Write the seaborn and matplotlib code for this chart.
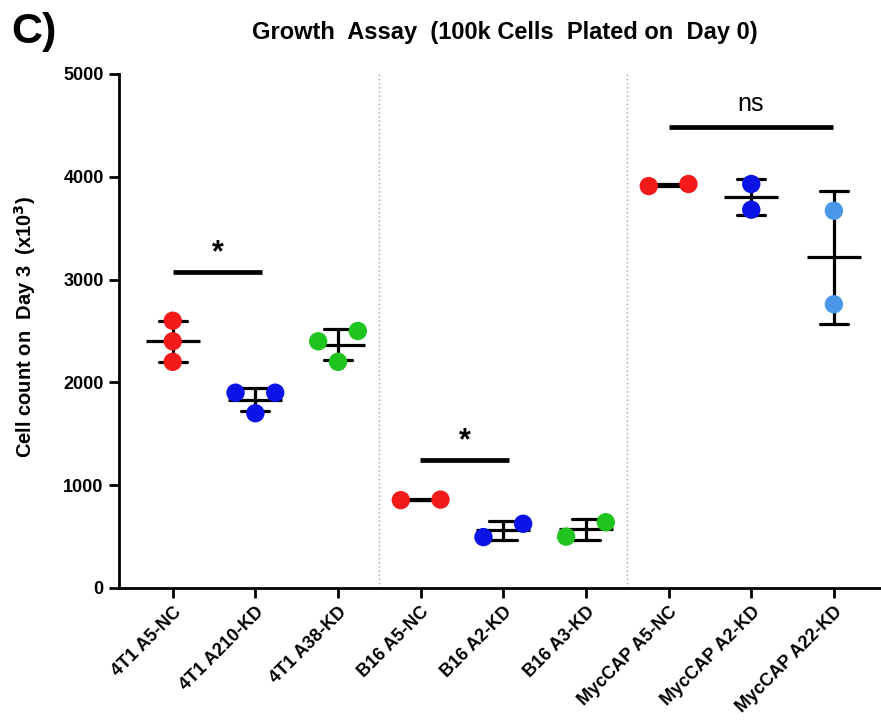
import matplotlib
matplotlib.use("Agg")
import matplotlib.pyplot as plt
import seaborn as sns
import pandas as pd

# ---- data ----
groups = ["4T1 A5-NC", "4T1 A210-KD", "4T1 A38-KD",
          "B16 A5-NC", "B16 A2-KD", "B16 A3-KD",
          "MycCAP A5-NC", "MycCAP A2-KD", "MycCAP A22-KD"]
vals_4t1_nc = [2600, 2400, 2200]
vals_4t1_a210 = [1900, 1900, 1700]
vals_4t1_a38 = [2400, 2500, 2200]
vals_b16_nc = [855, 860]
vals_b16_a2 = [495, 625]
vals_b16_a3 = [500, 640]
vals_myc_nc = [3910, 3930]
vals_myc_a2 = [3930, 3680]
vals_myc_a22 = [3670, 2760]
group_colors = ["#f21a1a", "#0a14e6", "#1fc41f",
                "#f21a1a", "#0a14e6", "#1fc41f",
                "#f21a1a", "#0a14e6", "#4a96e8"]
yticks = [0, 1000, 2000, 3000, 4000, 5000]

# significance annotations: (x_start, x_end, y_line, label)
sig_bars = [(0.0, 1.08, 3070, "*"), (2.99, 4.07, 1245, "*"), (6.0, 7.99, 4485, "ns")]

# ---- style constants ----
OVERLAP = 175      # value distance (y units) under which dots would overlap
SPREAD = 0.24      # horizontal spread (category units) for overlapping dots


def spread_offsets(values):
    """GraphPad-like scatter: overlapping dots spread symmetrically."""
    order = sorted(range(len(values)), key=lambda i: values[i])
    clusters, cur = [], [order[0]]
    for i in order[1:]:
        if values[i] - values[cur[-1]] < OVERLAP:
            cur.append(i)
        else:
            clusters.append(cur)
            cur = [i]
    clusters.append(cur)
    offs = [0.0] * len(values)
    for cl in clusters:
        n = len(cl)
        for k, i in enumerate(cl):
            offs[i] = (k - (n - 1) / 2) * 2 * SPREAD / max(n - 1, 1) if n > 1 else 0.0
    return offs


all_vals = [vals_4t1_nc, vals_4t1_a210, vals_4t1_a38, vals_b16_nc, vals_b16_a2,
            vals_b16_a3, vals_myc_nc, vals_myc_a2, vals_myc_a22]
rows = []
for gi, (g, vs) in enumerate(zip(groups, all_vals)):
    for v, o in zip(vs, spread_offsets(vs)):
        rows.append({"group": g, "count": v, "xpos": gi + o})
df = pd.DataFrame(rows)

sns.set_style("ticks")
plt.rcParams["font.family"] = ["Liberation Sans", "DejaVu Sans"]
plt.rcParams["font.weight"] = "bold"
for k in ("text.color", "axes.labelcolor", "xtick.color", "ytick.color", "axes.edgecolor"):
    plt.rcParams[k] = "black"

fig = plt.figure(figsize=(8.81, 7.27), dpi=100)
ax = fig.add_axes([119 / 881, 139 / 727, (881 - 119) / 881, (588 - 74) / 727])

sns.pointplot(data=df, x="group", y="count", order=groups, errorbar="sd",
              color="black", markers="_", markersize=39, markeredgewidth=2.3,
              linestyle="none", capsize=0.34, err_kws={"linewidth": 2.3},
              ax=ax, zorder=2)
sns.scatterplot(data=df, x="xpos", y="count", hue="group", hue_order=groups,
                palette=group_colors, s=175, linewidth=0, legend=False,
                ax=ax, zorder=3)

for xv in (2.5, 5.5):
    ax.axvline(xv, ymin=0, ymax=1, color="#a0a0a0", linestyle=(0, (1, 2)),
               linewidth=1.0, zorder=1)

for x0, x1, yl, lab in sig_bars:
    ax.plot([x0, x1], [yl, yl], color="black", linewidth=3.4, solid_capstyle="butt")
    if lab == "*":
        ax.text((x0 + x1) / 2, yl + 40, lab, ha="center", va="bottom",
                fontsize=22, fontweight="bold")
    else:
        ax.text((x0 + x1) / 2, yl + 110, lab, ha="center", va="bottom",
                fontsize=18, fontweight="normal")

ax.set_xlim(-0.65, 8.57)
ax.set_ylim(0, 5000)
ax.set_yticks(yticks)
ax.set_yticklabels([str(t) for t in yticks], fontsize=13, fontweight="bold")
ax.set_xticks(range(len(groups)))
ax.set_xticklabels(groups, rotation=45, ha="right", rotation_mode="anchor",
                   fontsize=13, fontweight="bold")
ax.set_xlabel("")
ax.set_ylabel("Cell count on  Day 3  (x10$^\\mathbf{3}$)", fontsize=14.5,
              fontweight="bold")
ax.yaxis.set_label_coords(-0.106, 0.508)

for side in ("top", "right"):
    ax.spines[side].set_visible(False)
for side in ("left", "bottom"):
    ax.spines[side].set_linewidth(2.0)
ax.tick_params(axis="both", direction="out", length=7, width=2.0, pad=4)

fig.text(505 / 881, 1 - 33 / 727, "Growth  Assay  (100k Cells  Plated on  Day 0)",
         ha="center", va="center", fontsize=17, fontweight="bold")
fig.text(34 / 881, 1 - 32 / 727, "C)", ha="center", va="center",
         fontsize=31, fontweight="bold")

fig.savefig("out.png", dpi=100)
